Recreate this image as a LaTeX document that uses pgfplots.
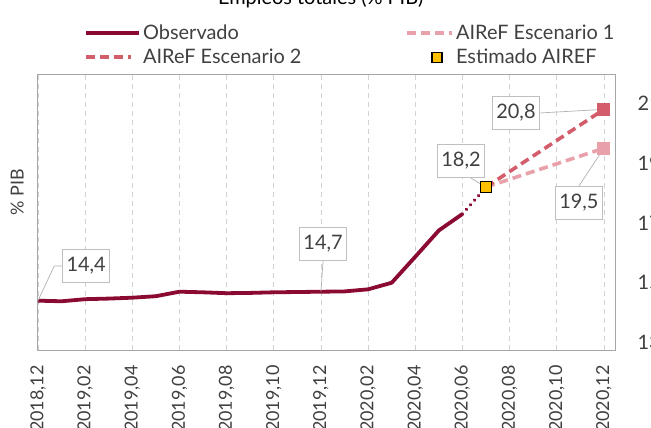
\documentclass[border=0pt]{standalone}
\usepackage{fontspec}
\setmainfont{Lato}
\usepackage{pgfplots}
\pgfplotsset{compat=1.18}
\definecolor{obs}{HTML}{8B0A32}
\definecolor{esc2}{HTML}{D45D6C}
\definecolor{esc1}{HTML}{E8A0AA}
\definecolor{est}{HTML}{FFC000}
\definecolor{txt}{HTML}{404040}
\definecolor{frame}{HTML}{A6A6A6}
\newcommand{\lf}{\fontsize{20}{23}\selectfont}
\begin{document}
\begin{tikzpicture}
\begin{axis}[name=ax, width=577bp, height=275bp, scale only axis,
  xmin=0, xmax=24.47, ymin=12.75, ymax=21.95,
  axis line style={draw=frame, line width=1bp},
  xtick={0,2,...,24},
  xticklabels={{2018,12},{2019,02},{2019,04},{2019,06},{2019,08},{2019,10},{2019,12},{2020,02},{2020,04},{2020,06},{2020,08},{2020,10},{2020,12}},
  ytick={13,15,17,19,21},
  yticklabels={13,15,17,19,21},
  yticklabel pos=right,
  major tick length=0pt,
  xmajorgrids,
  major grid style={dash pattern=on 5bp off 4bp, draw=gray!35, line width=0.8bp},
  xticklabel style={font=\fontsize{18}{21}\selectfont, text=txt, yshift=-12bp, rotate=90, anchor=east},
  yticklabel style={font=\lf, text=txt, anchor=west, xshift=19bp},
  ylabel={\% PIB},
  y label style={at={(axis description cs:-0.036,0.575)}, anchor=center, font=\fontsize{18}{21}\selectfont, text=txt},
  legend columns=2,
  legend cell align=left,
  legend style={at={(axis description cs:0.08,1.19)}, anchor=north west, draw=none, fill=none, font=\lf, text=txt, row sep=4bp, inner sep=0pt, nodes={inner sep=2bp}, /tikz/every even column/.append style={column sep=102bp}},
  clip=false,
]
\addplot[obs, line width=3.8bp, line join=round, legend image code/.code={\draw[obs, line width=3.8bp] (0bp,0bp) -- (53bp,0bp);}] coordinates {
 (0,14.4) (1,14.38) (2,14.45) (3,14.47) (4,14.5) (5,14.55) (6,14.7) (7,14.68) (8,14.65)
 (9,14.66) (10,14.68) (11,14.69) (12,14.7) (13,14.71) (14,14.78) (15,15.0) (16,15.87) (17,16.75) (18,17.3)};
\addlegendentry{Observado}
\addplot[esc1, line width=3.6bp, dash pattern=on 9bp off 5bp, legend image code/.code={\draw[esc1, line width=3.6bp, dash pattern=on 9bp off 5bp] (0bp,0bp) -- (45bp,0bp);}] coordinates {(19,18.2) (24,19.5)};
\addlegendentry{AIReF Escenario 1}
\addplot[esc2, line width=3.6bp, dash pattern=on 9bp off 5bp, legend image code/.code={\draw[esc2, line width=3.6bp, dash pattern=on 9bp off 5bp] (0bp,0bp) -- (45bp,0bp);}] coordinates {(19,18.2) (24,20.8)};
\addlegendentry{AIReF Escenario 2}
\addplot[obs, line width=3.5bp, line cap=round, dash pattern=on 0.1bp off 6bp, forget plot] coordinates {(18,17.3) (19,18.2)};
\addplot[only marks, mark=square*, mark size=6bp, mark options={fill=esc1, draw=esc1, line width=0pt}, forget plot] coordinates {(24,19.5)};
\addplot[only marks, mark=square*, mark size=6bp, mark options={fill=esc2, draw=esc2, line width=0pt}, forget plot] coordinates {(24,20.8)};
\addplot[only marks, mark=square*, mark size=5.5bp, mark options={fill=est, draw=black, line width=1.2bp},
  legend image code/.code={\node[draw=black, fill=est, line width=1.2bp, minimum size=10bp, inner sep=0pt] at (24bp,0bp) {};\pgfpathrectangle{\pgfpoint{0bp}{-1bp}}{\pgfpoint{45bp}{2bp}}\pgfusepath{use as bounding box}}] coordinates {(19,18.2)};
\addlegendentry{Estimado AIREF}
% callouts
\begin{scope}[every node/.style={draw=gray!50, fill=white, line width=0.8bp, font=\lf, text=txt, minimum width=47bp, minimum height=33bp, inner sep=3bp}]
\node (b144) at (axis cs:2.04,15.56) {14,4};
\node (b147) at (axis cs:12.09,16.3) {14,7};
\node (b182) at (axis cs:17.94,19.07) {18,2};
\node (b208) at (axis cs:20.27,20.68) {20,8};
\node (b195) at (axis cs:22.94,17.67) {19,5};
\end{scope}
\draw[gray!60, line width=0.7bp] (axis cs:0,14.4) -- ([xshift=-8bp]b144.west) -- (b144.west);
\draw[gray!60, line width=0.7bp] (axis cs:12,14.7) -- (b147.south);
\draw[gray!60, line width=0.7bp] (axis cs:19,18.2) -- (b182.-60);
\draw[gray!60, line width=0.7bp] (axis cs:24,20.8) -- (b208.east);
\draw[gray!60, line width=0.7bp] (axis cs:24,19.5) -- (b195.north);
\node[anchor=base, font=\fontsize{20}{24}\selectfont, text=black] at (axis description cs:0.49,1.258) {Empleos totales (\% PIB)};
\end{axis}
\pgfresetboundingbox
\path ([shift={(-38bp,-78bp)}]ax.south west) rectangle ([shift={(36bp,75bp)}]ax.north east);
\end{tikzpicture}
\end{document}
